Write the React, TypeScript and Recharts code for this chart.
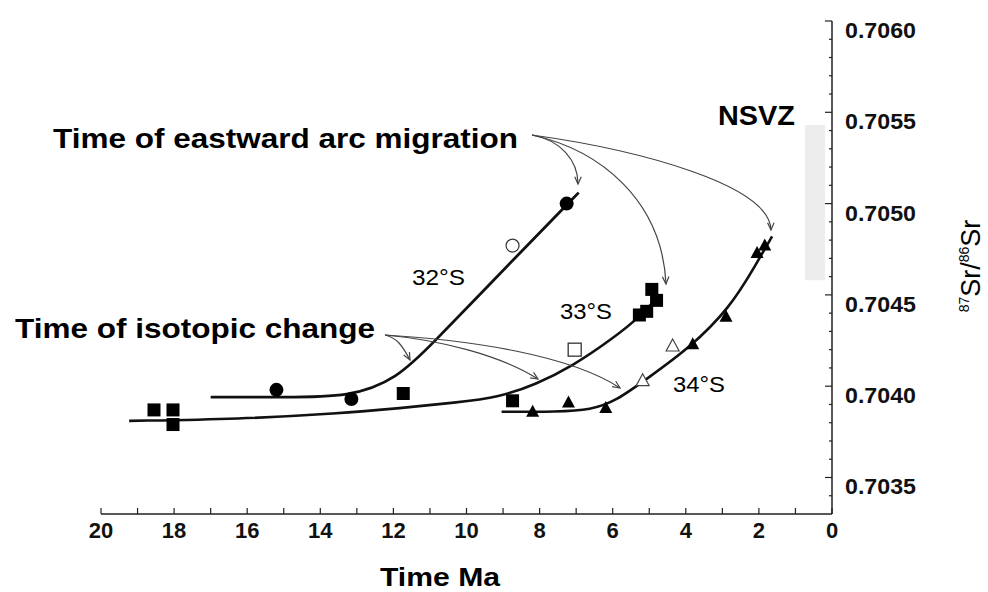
import { ComposedChart, XAxis, YAxis, Line, Scatter, ReferenceArea } from "recharts";

const FONT = "'Liberation Sans', Arial, Helvetica, sans-serif";

// axes
const X_TICKS = [20, 19, 18, 17, 16, 15, 14, 13, 12, 11, 10, 9, 8, 7, 6, 5, 4, 3, 2, 1, 0];
const X_TICK_LABELS = [20, 18, 16, 14, 12, 10, 8, 6, 4, 2, 0];
const Y_TICK_LABELS = [0.7035, 0.704, 0.7045, 0.705, 0.7055, 0.706];
const Y_MINOR_TICKS = Array.from({ length: 27 }, (_, i) => +(0.7034 + i * 0.0001).toFixed(4));
const Y_DOMAIN = [0.7033, 0.706];

// 32°S
const s32Filled = [
  { x: 15.2, y: 0.70398 },
  { x: 13.15, y: 0.70393 },
  { x: 7.26, y: 0.705 },
];
const s32Open = [{ x: 8.74, y: 0.70477 }];
const s32Curve = [
  { x: 17.0, y: 0.70394 },
  { x: 15.0, y: 0.70394 },
  { x: 13.2, y: 0.70394 },
  { x: 11.9, y: 0.70404 },
  { x: 10.9, y: 0.70424 },
  { x: 9.5, y: 0.70453 },
  { x: 8.2, y: 0.7048 },
  { x: 6.93, y: 0.70506 },
];

// 33°S
const s33Filled = [
  { x: 18.55, y: 0.70387 },
  { x: 18.03, y: 0.70387 },
  { x: 18.03, y: 0.70379 },
  { x: 11.73, y: 0.70396 },
  { x: 8.74, y: 0.70392 },
  { x: 4.93, y: 0.70453 },
  { x: 4.8, y: 0.70447 },
  { x: 5.07, y: 0.70441 },
  { x: 5.27, y: 0.70439 },
];
const s33Open = [{ x: 7.04, y: 0.7042 }];
const s33Curve = [
  { x: 19.23, y: 0.70381 },
  { x: 16.2, y: 0.70382 },
  { x: 13.5, y: 0.70385 },
  { x: 11.8, y: 0.70388 },
  { x: 10.3, y: 0.70391 },
  { x: 9.1, y: 0.70394 },
  { x: 8.1, y: 0.70401 },
  { x: 7.1, y: 0.70411 },
  { x: 6.0, y: 0.70426 },
  { x: 5.2, y: 0.70439 },
  { x: 4.71, y: 0.7045 },
];

// 34°S
const s34Filled = [
  { x: 8.19, y: 0.70386 },
  { x: 7.21, y: 0.70391 },
  { x: 6.19, y: 0.70388 },
  { x: 3.81, y: 0.70423 },
  { x: 2.9, y: 0.70438 },
  { x: 2.05, y: 0.70473 },
  { x: 1.84, y: 0.70477 },
];
const s34Open = [
  { x: 5.18, y: 0.70403 },
  { x: 4.36, y: 0.70422 },
];
const s34Curve = [
  { x: 9.04, y: 0.70386 },
  { x: 7.5, y: 0.70386 },
  { x: 6.6, y: 0.70387 },
  { x: 5.9, y: 0.70392 },
  { x: 5.07, y: 0.70404 },
  { x: 3.89, y: 0.70421 },
  { x: 2.79, y: 0.70443 },
  { x: 2.1, y: 0.70466 },
  { x: 1.64, y: 0.70482 },
];

// NSVZ range
const NSVZ_X = [0.74, 0.19];
const NSVZ_Y = [0.70458, 0.70543];

const XTick = (props: any) => {
  const { x, y, payload } = props;
  const labelled = X_TICK_LABELS.includes(payload.value);
  return (
    <g>
      <line x1={x} y1={y} x2={x} y2={y - 6} stroke="#222" strokeWidth={1.2} />
      {labelled && (
        <text x={x} y={y + 24} textAnchor="middle" fontSize={22} fontWeight="bold" fontFamily={FONT} fill="#111">
          {payload.value}
        </text>
      )}
    </g>
  );
};

const YTick = (props: any) => {
  const { x, y, payload } = props;
  const major = Y_TICK_LABELS.includes(payload.value);
  return (
    <g>
      <line x1={x} y1={y} x2={x - (major ? 7 : 3)} y2={y} stroke="#222" strokeWidth={1.2} />
      {major && (
        <text x={x + 13} y={y + 17} fontSize={22} fontWeight="bold" fontFamily={FONT} fill="#111" textLength={71} lengthAdjust="spacingAndGlyphs">
          {payload.value.toFixed(4)}
        </text>
      )}
    </g>
  );
};

const FilledCircle = (p: any) => <circle cx={p.cx} cy={p.cy} r={7} fill="#000" />;
const OpenCircle = (p: any) => <circle cx={p.cx} cy={p.cy} r={6.5} fill="#fff" stroke="#333" strokeWidth={1.2} />;
const FilledSquare = (p: any) => <rect x={p.cx - 6.5} y={p.cy - 6.5} width={13} height={13} fill="#000" />;
const OpenSquare = (p: any) => (
  <rect x={p.cx - 6.5} y={p.cy - 6.5} width={13} height={13} fill="#fff" stroke="#333" strokeWidth={1.3} />
);
const triPath = (cx: number, cy: number) => `M${cx},${cy - 7} L${cx + 6.5},${cy + 5} L${cx - 6.5},${cy + 5} Z`;
const FilledTriangle = (p: any) => <path d={triPath(p.cx, p.cy)} fill="#000" />;
const OpenTriangle = (p: any) => <path d={triPath(p.cx, p.cy)} fill="#fff" stroke="#444" strokeWidth={1.2} />;

function head(tx: number, ty: number, cx: number, cy: number) {
  const a = Math.atan2(ty - cy, tx - cx);
  const L = 8;
  const w = 0.42;
  const p1 = `${tx - L * Math.cos(a - w)},${ty - L * Math.sin(a - w)}`;
  const p2 = `${tx - L * Math.cos(a + w)},${ty - L * Math.sin(a + w)}`;
  return `M${p1} L${tx},${ty} L${p2}`;
}

// annotation arrows: start, control points, tip (page pixels)
const ARROWS = [
  [532, 135, 560, 140, 578, 160, 578, 184],
  [532, 135, 600, 150, 662, 200, 666, 284],
  [532, 135, 640, 150, 770, 185, 771, 230],
  [385, 335, 397, 338, 402, 345, 410, 360],
  [385, 335, 440, 340, 500, 355, 538, 379],
  [385, 335, 470, 340, 570, 355, 620, 388],
];

function Annotations() {
  return (
    <svg
      width={988}
      height={592}
      style={{ position: "absolute", left: 0, top: 0, pointerEvents: "none" }}
      fontFamily={FONT}
    >
      <text x={53} y={148} fontSize={28} fontWeight="bold" textLength={465} lengthAdjust="spacingAndGlyphs">
        Time of eastward arc migration
      </text>
      <text x={15} y={338} fontSize={28} fontWeight="bold" textLength={360} lengthAdjust="spacingAndGlyphs">
        Time of isotopic change
      </text>
      <text x={718} y={125} fontSize={27} fontWeight="bold" textLength={77} lengthAdjust="spacingAndGlyphs">
        NSVZ
      </text>
      <text x={412} y={285} fontSize={22} textLength={53} lengthAdjust="spacingAndGlyphs">
        32°S
      </text>
      <text x={560} y={319} fontSize={22} textLength={52} lengthAdjust="spacingAndGlyphs">
        33°S
      </text>
      <text x={673} y={392} fontSize={22} textLength={52} lengthAdjust="spacingAndGlyphs">
        34°S
      </text>
      <text x={380} y={586} fontSize={26} fontWeight="bold" textLength={120} lengthAdjust="spacingAndGlyphs">
        Time Ma
      </text>
      <text x={980} y={266} textAnchor="middle" transform="rotate(-90 980 266)" fontSize={27}>
        <tspan fontSize={14} dy={-11}>87</tspan>
        <tspan dy={11}>Sr/</tspan>
        <tspan fontSize={14} dy={-11}>86</tspan>
        <tspan dy={11}>Sr</tspan>
      </text>
      {ARROWS.map((a, i) => (
        <g key={i} fill="none" stroke="#444" strokeWidth={1.2}>
          <path d={`M${a[0]},${a[1]} C${a[2]},${a[3]} ${a[4]},${a[5]} ${a[6]},${a[7]}`} />
          <path d={head(a[6], a[7], a[4], a[5])} />
        </g>
      ))}
    </svg>
  );
}

export default function App() {
  return (
    <div style={{ position: "absolute", left: 0, top: 0, width: 988, height: 592, background: "#fff" }}>
      <ComposedChart width={988} height={592} margin={{ top: 21, right: 0, bottom: 0, left: 101 }}>
        <XAxis
          type="number"
          dataKey="x"
          domain={[0, 20]}
          reversed
          ticks={X_TICKS}
          interval={0}
          height={78}
          tickSize={0}
          tickMargin={0}
          tickLine={false}
          axisLine={{ stroke: "#222", strokeWidth: 1.5 }}
          tick={XTick}
          allowDataOverflow
        />
        <YAxis
          yAxisId="r"
          orientation="right"
          type="number"
          dataKey="y"
          domain={Y_DOMAIN}
          ticks={Y_MINOR_TICKS}
          interval={0}
          width={156}
          tickSize={0}
          tickMargin={0}
          tickLine={false}
          axisLine={{ stroke: "#222", strokeWidth: 1.5 }}
          tick={YTick}
          allowDataOverflow
        />
        <ReferenceArea
          yAxisId="r"
          x1={NSVZ_X[0]}
          x2={NSVZ_X[1]}
          y1={NSVZ_Y[0]}
          y2={NSVZ_Y[1]}
          fill="#ededed"
          fillOpacity={1}
          stroke="none"
        />
        <Line yAxisId="r" data={s32Curve} dataKey="y" type="basis" stroke="#111" strokeWidth={2.8} dot={false} isAnimationActive={false} />
        <Line yAxisId="r" data={s33Curve} dataKey="y" type="basis" stroke="#111" strokeWidth={2.6} dot={false} isAnimationActive={false} />
        <Line yAxisId="r" data={s34Curve} dataKey="y" type="basis" stroke="#111" strokeWidth={2.6} dot={false} isAnimationActive={false} />
        <Scatter yAxisId="r" data={s32Filled} dataKey="y" shape={FilledCircle} isAnimationActive={false} />
        <Scatter yAxisId="r" data={s32Open} dataKey="y" shape={OpenCircle} isAnimationActive={false} />
        <Scatter yAxisId="r" data={s33Filled} dataKey="y" shape={FilledSquare} isAnimationActive={false} />
        <Scatter yAxisId="r" data={s33Open} dataKey="y" shape={OpenSquare} isAnimationActive={false} />
        <Scatter yAxisId="r" data={s34Filled} dataKey="y" shape={FilledTriangle} isAnimationActive={false} />
        <Scatter yAxisId="r" data={s34Open} dataKey="y" shape={OpenTriangle} isAnimationActive={false} />
      </ComposedChart>
      <Annotations />
    </div>
  );
}
